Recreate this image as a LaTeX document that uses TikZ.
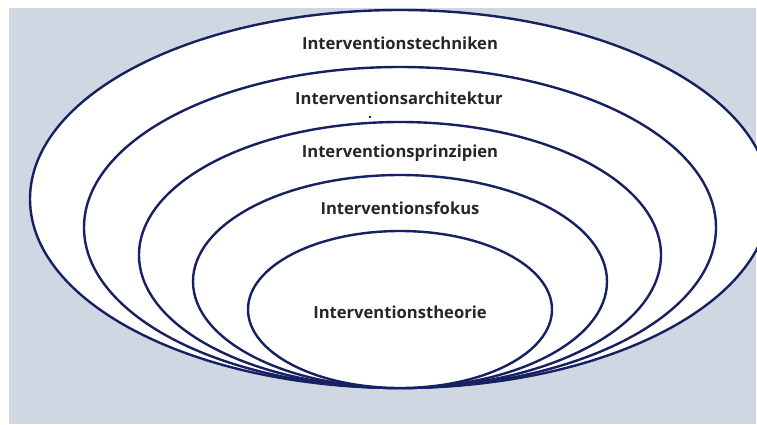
\documentclass[tikz,border=0pt]{standalone}
\usepackage{fontspec}
\setmainfont{Open Sans}
\usetikzlibrary{shapes.geometric}
\definecolor{navy}{HTML}{172060}
\definecolor{bgpage}{HTML}{CFD7E3}
\definecolor{txt}{HTML}{262626}
\begin{document}
\begin{tikzpicture}[x=1pt,y=-1pt,
  ring/.style={ellipse, draw=navy, line width=2.4pt, fill=white, inner sep=0pt},
  lab/.style={font=\bfseries\fontsize{16.6}{18}\selectfont, text=txt, inner sep=0pt}]
\useasboundingbox (0,0) rectangle (757,424);
\fill[white] (0,0) rectangle (757,424);
\fill[bgpage] (9,8) rectangle (756,424);
\begin{scope}
\clip (0,0) rectangle (757,424);
\node[ring, minimum width=740pt, minimum height=378pt] (e1) at (400,199) {};
\node[ring, minimum width=632pt, minimum height=321pt] (e2) at (400,227.5) {};
\node[ring, minimum width=522pt, minimum height=266pt] (e3) at (400,255) {};
\node[ring, minimum width=414pt, minimum height=213pt] (e4) at (400,281.5) {};
\node[ring, minimum width=304pt, minimum height=157pt] (e5) at (400,309.5) {};
\end{scope}
\node[lab] (t1) at (400,43) {Interventionstechniken};
\node[lab] (t2) at (399,98) {Interventionsarchitektur};
\node[lab] (t3) at (400,153) {Interventionsprinzipien};
\node[lab] (t4) at (400,208) {Interventionsfokus};
\node[lab] (t5) at (400,312) {Interventionstheorie};
\fill[blue] (370,117) circle (1.3pt);
\end{tikzpicture}
\end{document}
